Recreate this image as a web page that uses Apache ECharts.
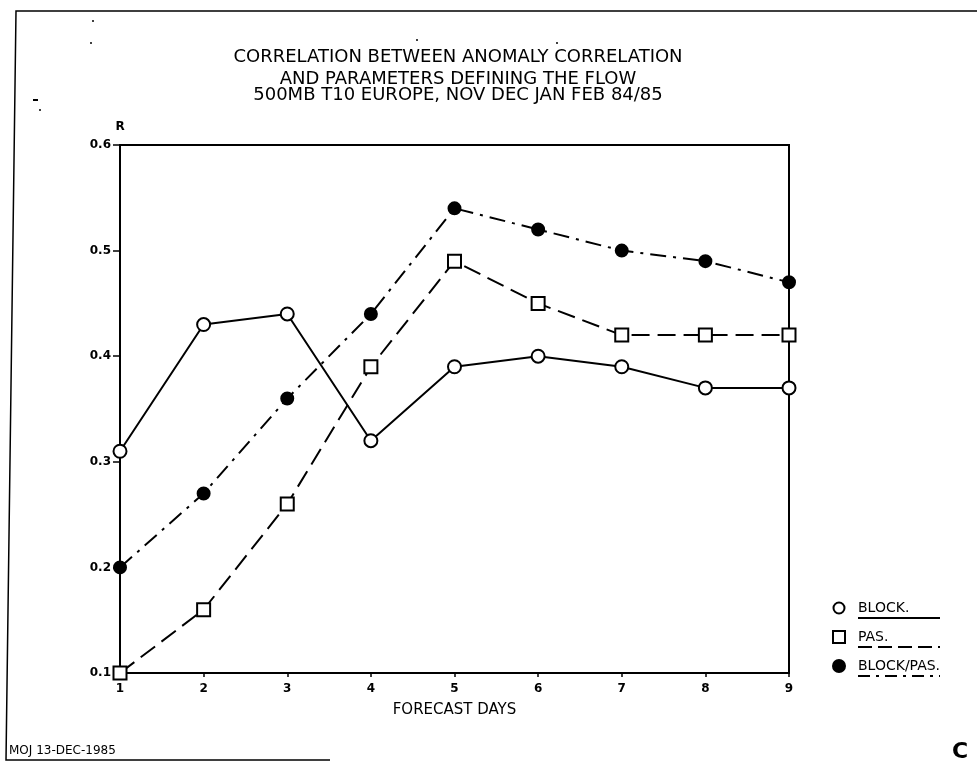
<!DOCTYPE html>
<html>
<head>
<meta charset="utf-8">
<script src="https://cdn.jsdelivr.net/npm/echarts@6/dist/echarts.min.js"></script>
<style>
html,body{margin:0;padding:0;background:#fff;}
#c{width:977px;height:762px;}
</style>
</head>
<body>
<div id="c"></div>
<script>
// ---- data ----
const days = [1, 2, 3, 4, 5, 6, 7, 8, 9];
const block = [0.31, 0.43, 0.44, 0.32, 0.39, 0.40, 0.39, 0.37, 0.37];
const pas = [0.10, 0.16, 0.26, 0.39, 0.49, 0.45, 0.42, 0.42, 0.42];
const blockPas = [0.20, 0.27, 0.36, 0.44, 0.54, 0.52, 0.50, 0.49, 0.47];
const seriesNames = ['BLOCK.', 'PAS.', 'BLOCK/PAS.'];
const titleLines = [
  'CORRELATION BETWEEN ANOMALY CORRELATION',
  'AND PARAMETERS DEFINING THE FLOW',
  '500MB T10 EUROPE, NOV DEC JAN FEB 84/85'
];
const xAxisName = 'FORECAST DAYS';
const yAxisName = 'R';
const footer = 'MOJ 13-DEC-1985';

// ---- styles ----
const dashStyles = ['solid', [18, 8], [16, 7, 3, 7]];
const legendDash = [null, [14, 6], [12, 6, 3, 6]];
const symbols = ['circle', 'rect', 'circle'];
const fills = ['#fff', '#fff', '#000'];
const symbolSizes = [13, 13, 12];
const allValues = [block, pas, blockPas];

const chart = echarts.init(document.getElementById('c'), null, {renderer: 'canvas'});

const series = allValues.map((vals, i) => ({
  name: seriesNames[i],
  type: 'line',
  data: days.map((d, j) => [d, vals[j]]),
  symbol: symbols[i],
  symbolSize: symbolSizes[i],
  showAllSymbol: true,
  lineStyle: {color: '#000', width: 2, type: dashStyles[i]},
  itemStyle: {color: fills[i], borderColor: '#000', borderWidth: 2, opacity: 1},
  z: 3 + i,
  animation: false
}));

const graphics = [];
// title lines
const titleY = [57, 79, 95];
titleLines.forEach((t, i) => {
  graphics.push({
    type: 'text', x: 458, y: titleY[i],
    style: {text: t, fill: '#000', font: '18px "DejaVu Sans"', textAlign: 'center', textVerticalAlign: 'middle'}
  });
});
// legend
const legY = [608, 637, 666];
seriesNames.forEach((n, i) => {
  const y = legY[i];
  if (symbols[i] === 'circle') {
    graphics.push({type: 'circle', shape: {cx: 839, cy: y, r: i === 2 ? 6 : 5.5},
      style: {fill: fills[i], stroke: '#000', lineWidth: 2}});
  } else {
    graphics.push({type: 'rect', shape: {x: 833, y: y - 6, width: 12, height: 12},
      style: {fill: '#fff', stroke: '#000', lineWidth: 2}});
  }
  graphics.push({type: 'text', x: 858, y: y,
    style: {text: n, fill: '#000', font: '14px "DejaVu Sans"', textVerticalAlign: 'middle'}});
  graphics.push({type: 'line', shape: {x1: 858, y1: y + 10, x2: 940, y2: y + 10},
    style: {stroke: '#000', lineWidth: 2, lineDash: legendDash[i]}});
});
// page frame
graphics.push({type: 'polyline', shape: {points: [[977, 11], [16, 11], [6, 760], [330, 760]]},
  style: {stroke: '#000', lineWidth: 1.5, fill: null}});
// footer
graphics.push({type: 'text', x: 9, y: 751,
  style: {text: footer, fill: '#000', font: '12px "DejaVu Sans"', textVerticalAlign: 'middle'}});
// specks
[[93, 21], [91, 43], [40, 110], [417, 40], [557, 43]].forEach(p => {
  graphics.push({type: 'circle', shape: {cx: p[0], cy: p[1], r: 1}, style: {fill: '#000'}});
});
graphics.push({type: 'rect', shape: {x: 33, y: 99, width: 5, height: 2}, style: {fill: '#000'}});
// corner blob
graphics.push({type: 'text', x: 952, y: 752,
  style: {text: 'C', fill: '#000', font: 'bold 22px "DejaVu Sans"', textVerticalAlign: 'middle'}});

chart.setOption({
  backgroundColor: '#fff',
  animation: false,
  grid: {left: 120, right: 188, top: 145, bottom: 89, show: true, borderColor: '#000', borderWidth: 2, backgroundColor: 'transparent'},
  xAxis: {
    type: 'value', min: 1, max: 9, interval: 1,
    name: xAxisName, nameLocation: 'middle', nameGap: 30,
    nameTextStyle: {color: '#000', fontSize: 15, fontFamily: 'DejaVu Sans'},
    axisLine: {show: true, lineStyle: {color: '#000', width: 2}},
    axisTick: {show: true, length: 4, lineStyle: {color: '#000', width: 1.5}},
    axisLabel: {color: '#000', fontSize: 12, fontWeight: 'bold', fontFamily: 'DejaVu Sans', margin: 10},
    splitLine: {show: false}
  },
  yAxis: {
    type: 'value', min: 0.1, max: 0.6, interval: 0.1,
    name: yAxisName, nameLocation: 'end', nameGap: 12,
    nameTextStyle: {color: '#000', fontSize: 12, fontWeight: 'bold', fontFamily: 'DejaVu Sans', align: 'center'},
    axisLine: {show: true, lineStyle: {color: '#000', width: 2}},
    axisTick: {show: true, length: 7, lineStyle: {color: '#000', width: 1.5}},
    axisLabel: {color: '#000', fontSize: 12, fontWeight: 'bold', fontFamily: 'DejaVu Sans', margin: 9,
      formatter: v => v.toFixed(1)},
    splitLine: {show: false}
  },
  series: series,
  graphic: graphics
});
</script>
</body>
</html>
